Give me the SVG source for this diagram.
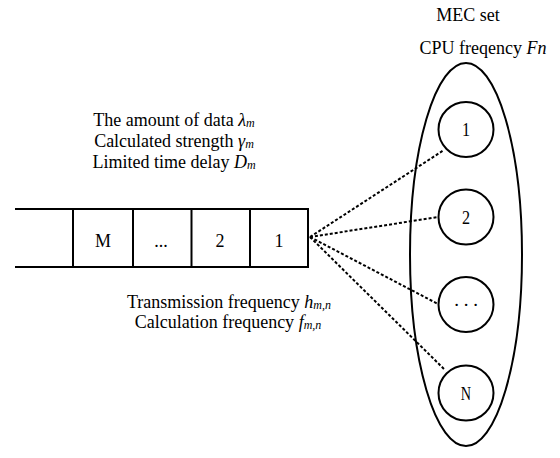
<svg xmlns="http://www.w3.org/2000/svg" width="560" height="458" viewBox="0 0 560 458">
<style>
.t{font-family:"Liberation Serif","Times New Roman",serif;font-size:18px;fill:#000}
.i{font-style:italic}
.s{font-style:italic;font-size:12px}
.c{font-family:"Liberation Serif","Times New Roman",serif;font-size:19px;fill:#000}
.ln{stroke:#000;stroke-width:2;fill:none}
.dl{stroke:#000;stroke-width:2;stroke-dasharray:3 2;fill:none}
</style>
<rect width="560" height="458" fill="#fff"/>
<g id="mec-set">
<ellipse cx="466" cy="254.5" rx="56" ry="191.5" class="ln"/>
<text class="t" x="468" y="21" text-anchor="middle">MEC set</text>
<text class="t" x="483" y="54" text-anchor="middle">CPU freqency <tspan class="i">Fn</tspan></text>
</g>
<g id="queue">
<line x1="15" y1="209" x2="309" y2="209" class="ln"/>
<line x1="15" y1="267" x2="309" y2="267" class="ln"/>
<line x1="73" y1="208" x2="73" y2="268" class="ln"/>
<line x1="133" y1="208" x2="133" y2="268" class="ln"/>
<line x1="191.5" y1="208" x2="191.5" y2="268" class="ln"/>
<line x1="250" y1="208" x2="250" y2="268" class="ln"/>
<line x1="308" y1="208" x2="308" y2="268" class="ln"/>
<text class="t" x="103" y="247" text-anchor="middle">M</text>
<text class="t" x="161" y="247" text-anchor="middle">...</text>
<text class="t" x="220" y="247" text-anchor="middle">2</text>
<text class="t" x="279" y="247" text-anchor="middle">1</text>
</g>
<g id="task-labels">
<text class="t" x="174" y="126" text-anchor="middle">The amount of data <tspan class="i">λ</tspan><tspan class="s" dy="1">m</tspan></text>
<text class="t" x="174" y="147" text-anchor="middle">Calculated strength <tspan class="i">γ</tspan><tspan class="s" dy="1">m</tspan></text>
<text class="t" x="174" y="168" text-anchor="middle">Limited time delay <tspan class="i">D</tspan><tspan class="s" dy="1">m</tspan></text>
</g>
<g id="link-labels">
<text class="t" x="229" y="308" text-anchor="middle">Transmission frequency <tspan class="i">h</tspan><tspan class="s" dy="1">m,n</tspan></text>
<text class="t" x="228" y="328" text-anchor="middle">Calculation frequency <tspan class="i">f</tspan><tspan class="s" dy="1">m,n</tspan></text>
</g>
<g id="connectors">
<line x1="310" y1="237" x2="444" y2="150" class="dl"/>
<line x1="310" y1="237" x2="438" y2="217" class="dl"/>
<line x1="310" y1="237" x2="438" y2="304" class="dl"/>
<line x1="310" y1="237" x2="444" y2="369" class="dl"/>
</g>
<g id="server-1">
<circle cx="466" cy="129.5" r="27.5" class="ln"/>
<text class="c" transform="translate(466,136) scale(0.85,1)" text-anchor="middle">1</text>
</g>
<g id="server-2">
<circle cx="466" cy="217" r="27.5" class="ln"/>
<text class="c" transform="translate(466,223.5) scale(0.85,1)" text-anchor="middle">2</text>
</g>
<g id="server-dots">
<circle cx="466" cy="304.5" r="27.5" class="ln"/>
<text class="c" x="466" y="306" text-anchor="middle">. . .</text>
</g>
<g id="server-n">
<circle cx="466" cy="393" r="27.5" class="ln"/>
<text class="c" transform="translate(466,400) scale(0.75,1)" text-anchor="middle">N</text>
</g>
</svg>
